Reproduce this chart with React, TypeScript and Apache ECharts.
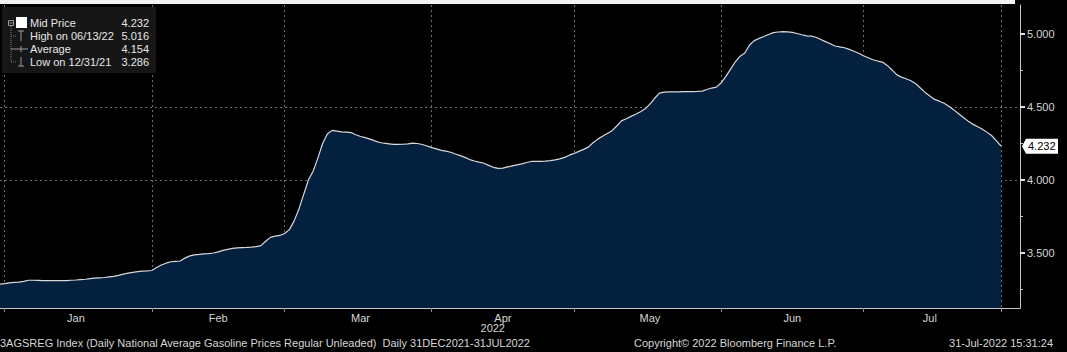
import { useEffect, useRef } from "react";
import * as echarts from "echarts";

// ---------- data ----------
const START_UTC = Date.UTC(2021, 11, 31); // 31 Dec 2021
const AXIS_DAYS = 216; // axis runs to 3 Aug 2022

// Daily national average gasoline price, 31 Dec 2021 .. 30 Jul 2022
const prices = [
  3.286, 3.29, 3.295, 3.298, 3.3, 3.305, 3.313, 3.313, 3.312, 3.311,
  3.31, 3.31, 3.31, 3.31, 3.311, 3.313, 3.315, 3.318, 3.32, 3.324,
  3.328, 3.33, 3.332, 3.336, 3.34, 3.346, 3.355, 3.362, 3.367, 3.372,
  3.375, 3.377, 3.38, 3.4, 3.418, 3.43, 3.44, 3.443, 3.445, 3.465,
  3.48, 3.487, 3.49, 3.494, 3.496, 3.5, 3.508, 3.518, 3.525, 3.532,
  3.535, 3.537, 3.538, 3.54, 3.544, 3.55, 3.58, 3.607, 3.615, 3.62,
  3.633, 3.66, 3.72, 3.8, 3.9, 4.0, 4.06, 4.15, 4.25, 4.315,
  4.34, 4.335, 4.33, 4.328, 4.325, 4.31, 4.298, 4.29, 4.28, 4.268,
  4.257, 4.252, 4.248, 4.244, 4.244, 4.245, 4.247, 4.253, 4.25, 4.243,
  4.233, 4.222, 4.213, 4.203, 4.198, 4.19, 4.178, 4.167, 4.155, 4.14,
  4.13, 4.122, 4.115, 4.1, 4.087, 4.08, 4.081, 4.09, 4.097, 4.104,
  4.11, 4.12, 4.127, 4.128, 4.128, 4.129, 4.133, 4.138, 4.145, 4.155,
  4.17, 4.182, 4.196, 4.21, 4.225, 4.255, 4.28, 4.3, 4.318, 4.338,
  4.37, 4.405, 4.42, 4.436, 4.45, 4.468, 4.488, 4.52, 4.56, 4.595,
  4.602, 4.604, 4.604, 4.604, 4.605, 4.605, 4.606, 4.607, 4.609, 4.62,
  4.63, 4.636, 4.665, 4.71, 4.76, 4.81, 4.848, 4.87, 4.925, 4.955,
  4.97, 4.983, 4.997, 5.01, 5.014, 5.016, 5.015, 5.012, 5.004, 4.995,
  4.988, 4.986, 4.978, 4.963, 4.948, 4.933, 4.918, 4.912, 4.906, 4.895,
  4.882, 4.868, 4.851, 4.838, 4.824, 4.815, 4.808, 4.785, 4.755, 4.722,
  4.705, 4.694, 4.68, 4.66, 4.63, 4.6, 4.575, 4.552, 4.54, 4.526,
  4.505, 4.482, 4.456, 4.43, 4.405, 4.383, 4.366, 4.35, 4.328, 4.305,
  4.27, 4.232,
];

const gridDates = [
  "2022-01-01", "2022-02-01", "2022-03-01", "2022-04-01",
  "2022-05-01", "2022-06-01", "2022-07-01", "2022-07-30",
];
const labelDates = [
  "2022-01-16", "2022-02-15", "2022-03-17", "2022-04-16",
  "2022-05-17", "2022-06-16", "2022-07-15",
];
const monthNames = ["Jan", "Feb", "Mar", "Apr", "May", "Jun", "Jul", "Aug", "Sep", "Oct", "Nov", "Dec"];
const yMajor = [3.5, 4.0, 4.5, 5.0];
const yMinor = [3.25, 3.75, 4.25, 4.75];
const legendNames = ["Mid Price", "High on 06/13/22", "Average", "Low on 12/31/21"];
const legendValues = ["4.232", "5.016", "4.154", "3.286"];
const footerLeft =
  "3AGSREG Index (Daily National Average Gasoline Prices Regular Unleaded)  Daily 31DEC2021-31JUL2022";
const footerMid = "Copyright\u00A9 2022 Bloomberg Finance L.P.";
const footerRight = "31-Jul-2022 15:31:24";
const yearLabel = "2022";

// ---------- helpers ----------
const FONT = '"Liberation Sans", Arial, sans-serif';
function buildDates(): string[] {
  const out: string[] = [];
  for (let i = 0; i < AXIS_DAYS; i++) {
    out.push(new Date(START_UTC + i * 86400000).toISOString().slice(0, 10));
  }
  return out;
}

export default function App() {
  const ref = useRef<HTMLDivElement>(null);

  useEffect(() => {
    document.body.style.margin = "0";
    document.body.style.background = "#000";
    if (!ref.current) return;
    const chart = echarts.init(ref.current, undefined, { renderer: "svg" });
    const dates = buildDates();
    const txt = "#d6d6d6";
    const gridColor = "#6e6e6e";

    chart.setOption({
      animation: false,
      backgroundColor: "#000",
      textStyle: { fontFamily: FONT },
      grid: { left: -6, right: 47, top: 5, bottom: 44, containLabel: false },
      xAxis: {
        type: "category",
        data: dates,
        boundaryGap: false,
        axisLine: { show: true, lineStyle: { color: "#c8c8c8", width: 1 } },
        axisTick: {
          show: true,
          interval: (_i: number, v: string) => gridDates.includes(v),
          length: 4,
          lineStyle: { color: "#8a8a8a" },
        },
        splitLine: {
          show: true,
          interval: (_i: number, v: string) => gridDates.includes(v),
          lineStyle: { color: gridColor, type: [2, 3], width: 1 },
        },
        axisLabel: {
          interval: (_i: number, v: string) => labelDates.includes(v),
          formatter: (v: string) => monthNames[parseInt(v.slice(5, 7), 10) - 1],
          color: txt,
          fontSize: 11,
          fontFamily: FONT,
          margin: 4,
        },
      },
      yAxis: [
        {
          type: "value",
          position: "right",
          min: 3.123,
          max: 5.199,
          axisLine: { show: true, lineStyle: { color: "#c8c8c8", width: 1 } },
          axisTick: { show: true, customValues: yMajor, length: 5, lineStyle: { color: "#e0e0e0", width: 2 } },
          axisLabel: {
            customValues: yMajor,
            formatter: (v: number) => v.toFixed(3),
            color: txt,
            fontSize: 11,
            fontFamily: FONT,
            margin: 7,
          },
          splitLine: {
            show: true,
            showMinLine: false,
            showMaxLine: false,
            lineStyle: { color: gridColor, type: [2, 3], width: 1 },
          },
        },
        {
          type: "value",
          position: "right",
          min: 3.123,
          max: 5.199,
          axisLine: { show: false },
          axisTick: { show: true, customValues: yMinor, length: 3, lineStyle: { color: "#c8c8c8" } },
          axisLabel: { show: false },
          splitLine: { show: false },
        },
      ],
      series: [
        {
          type: "line",
          data: prices,
          yAxisIndex: 0,
          showSymbol: false,
          symbol: "none",
          lineStyle: { color: "#d9d9d9", width: 1.2 },
          areaStyle: { color: "#03203f", opacity: 1, origin: "start" },
          z: 3,
        },
      ],
    });

    const last = prices[prices.length - 1];
    const ly = chart.convertToPixel({ yAxisIndex: 0 }, last) as number;
    const axisX = 1067 - 47;

    const rowY = [23, 36, 49, 62];
    const legendEls: any[] = [];
    legendNames.forEach((n, k) => {
      legendEls.push({
        type: "text",
        style: { text: n, x: 30, y: rowY[k], fill: "#e6e6e6", font: `11px ${FONT}`, textVerticalAlign: "middle" },
      });
      legendEls.push({
        type: "text",
        style: {
          text: legendValues[k],
          x: 149,
          y: rowY[k],
          fill: "#e6e6e6",
          font: `11px ${FONT}`,
          textAlign: "right",
          textVerticalAlign: "middle",
        },
      });
    });
    const iconStroke = { stroke: "#9a9a9a", lineWidth: 1 };
    const dashStroke = { stroke: "#7a7a7a", lineWidth: 1, lineDash: [1, 1] };
    legendEls.push(
      { type: "rect", shape: { x: 8.5, y: 20.5, width: 5, height: 5 }, style: { fill: "none", ...iconStroke } },
      { type: "line", shape: { x1: 9.5, y1: 23, x2: 12.5, y2: 23 }, style: iconStroke },
      { type: "rect", shape: { x: 16, y: 17, width: 11, height: 11 }, style: { fill: "#ffffff" } },
      { type: "line", shape: { x1: 11, y1: 26, x2: 11, y2: 62 }, style: dashStroke },
      { type: "line", shape: { x1: 11, y1: 36, x2: 17, y2: 36 }, style: dashStroke },
      { type: "line", shape: { x1: 21, y1: 31, x2: 21, y2: 41 }, style: iconStroke },
      { type: "line", shape: { x1: 18, y1: 31, x2: 24, y2: 31 }, style: iconStroke },
      { type: "line", shape: { x1: 11, y1: 49, x2: 28, y2: 49 }, style: iconStroke },
      { type: "line", shape: { x1: 21, y1: 46, x2: 21, y2: 52 }, style: iconStroke },
      { type: "line", shape: { x1: 11, y1: 62, x2: 17, y2: 62 }, style: dashStroke },
      { type: "line", shape: { x1: 21, y1: 57, x2: 21, y2: 66 }, style: iconStroke },
      { type: "line", shape: { x1: 18, y1: 66, x2: 24, y2: 66 }, style: iconStroke }
    );
    legendEls.forEach((el) => {
      el.z = 20;
    });

    chart.setOption({
      graphic: [
        { type: "rect", z: 10, shape: { x: 0, y: 0, width: 1015, height: 4 }, style: { fill: "#f2f2f2" } },
        { type: "rect", z: 10, shape: { x: 2, y: 7, width: 154, height: 66 }, style: { fill: "#161616" } },
        ...legendEls,
        {
          type: "polygon",
          z: 12,
          shape: {
            points: [
              [axisX + 2, ly],
              [axisX + 6, ly - 7.5],
              [axisX + 38, ly - 7.5],
              [axisX + 38, ly + 7.5],
              [axisX + 6, ly + 7.5],
            ],
          },
          style: { fill: "#ffffff" },
        },
        {
          type: "text",
          z: 13,
          style: {
            text: last.toFixed(3),
            x: axisX + 8,
            y: ly,
            fill: "#000",
            font: `11px ${FONT}`,
            textVerticalAlign: "middle",
          },
        },
        {
          type: "text",
          z: 12,
          style: { text: yearLabel, x: 505, y: 328, fill: "#d6d6d6", font: `11px ${FONT}`, textAlign: "right", textVerticalAlign: "middle" },
        },
        {
          type: "text",
          z: 12,
          style: { text: footerLeft, x: 0, y: 343, fill: "#d6d6d6", font: `11px ${FONT}`, textVerticalAlign: "middle" },
        },
        {
          type: "text",
          z: 12,
          style: { text: footerMid, x: 634, y: 343, fill: "#d6d6d6", font: `11px ${FONT}`, textVerticalAlign: "middle" },
        },
        {
          type: "text",
          z: 12,
          style: { text: footerRight, x: 1053, y: 343, fill: "#d6d6d6", font: `11px ${FONT}`, textAlign: "right", textVerticalAlign: "middle" },
        },
      ],
    });

    return () => chart.dispose();
  }, []);

  return (
    <div
      ref={ref}
      style={{ position: "absolute", left: 0, top: 0, width: 1067, height: 352, background: "#000" }}
    />
  );
}
